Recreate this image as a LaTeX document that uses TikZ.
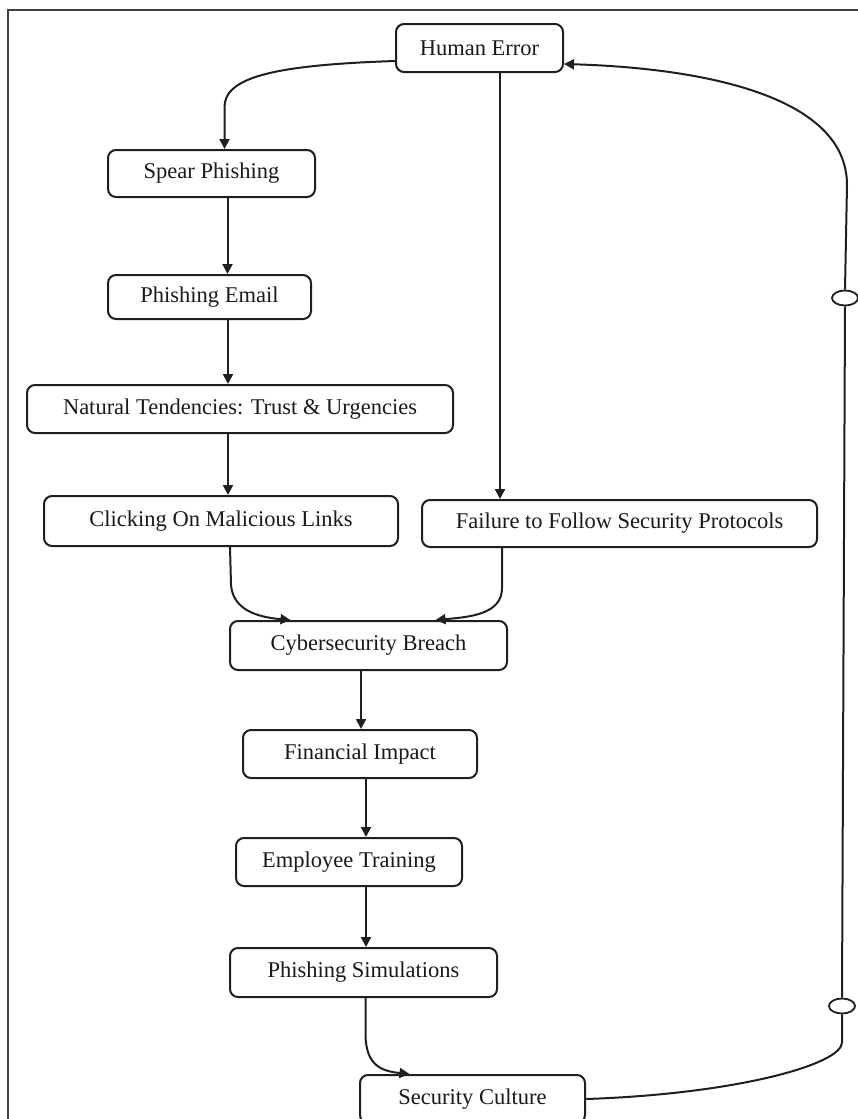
\documentclass[tikz,border=0pt]{standalone}
\usepackage{fontspec}
\setmainfont{Liberation Serif}
\usetikzlibrary{arrows.meta,calc,shapes.geometric}
\begin{document}
\begin{tikzpicture}[x=1pt,y=-1pt,
  box/.style={draw=black!88,line width=2pt,rounded corners=8pt,inner sep=0pt,
    font=\fontsize{22.5}{26}\selectfont,text=black!90},
  conn/.style={draw=black!88,line width=2pt},
  arr/.style={conn,-{Triangle[length=10pt,width=10pt]}},
  joint/.style={draw=black!88,fill=white,line width=1.8pt,ellipse,minimum width=26pt,minimum height=15pt,inner sep=0pt}]
\useasboundingbox (0,0) rectangle (858,1119);
\begin{scope}
\clip (0,0) rectangle (858,1119);
\draw[line width=1.5pt,black!75] (8,1125) -- (8,10) -- (865,10);

\node[box,minimum width=167pt,minimum height=48pt] (he) at (479.5,48) {Human Error};
\node[box,minimum width=207pt,minimum height=47pt] (sp) at (211.5,173.5) {Spear Phishing};
\node[box,minimum width=203pt,minimum height=44pt] (pe) at (209.5,297) {Phishing Email};
\node[box,minimum width=426pt,minimum height=48pt] (nt) at (240,409) {Natural Tendencies: Trust \& Urgencies};
\node[box,minimum width=354pt,minimum height=50pt] (cl) at (221,521) {Clicking On Malicious Links};
\node[box,minimum width=395pt,minimum height=47pt] (fa) at (619.5,523.5) {Failure to Follow Security Protocols};
\node[box,minimum width=277pt,minimum height=49pt] (cb) at (368.5,645.5) {Cybersecurity Breach};
\node[box,minimum width=234pt,minimum height=48pt] (fi) at (360,754) {Financial Impact};
\node[box,minimum width=226pt,minimum height=48pt] (et) at (349,862) {Employee Training};
\node[box,minimum width=267pt,minimum height=49pt] (ps) at (363.5,972.5) {Phishing Simulations};
\node[box,minimum width=225pt,minimum height=48pt] (sc) at (472.5,1099) {Security Culture};

% Human Error -> Spear Phishing
\coordinate (hs) at ($(he.west)+(0,13)$);
\coordinate (spn) at ($(sp.north)+(13,0)$);
\draw[arr] (hs) .. controls ($(hs)+(-120,4)$) and ($(spn)+(0,-72)$) .. ($(spn)+(0,-42)$) -- (spn);

% Human Error -> Failure
\coordinate (hf) at ($(he.south)+(20.5,0)$);
\draw[arr] (hf) -- (hf |- fa.north);

% vertical chain
\coordinate (c1) at ($(sp.south)+(16,0)$);
\draw[arr] (c1) -- (c1 |- pe.north);
\coordinate (c2) at ($(pe.south)+(18.5,0)$);
\draw[arr] (c2) -- (c2 |- nt.north);
\coordinate (c3) at ($(nt.south)+(-12,0)$);
\draw[arr] (c3) -- (c3 |- cl.north);
\coordinate (c4) at ($(cb.south)+(-7.5,0)$);
\draw[arr] (c4) -- (c4 |- fi.north);
\coordinate (c5) at ($(fi.south)+(6,0)$);
\draw[arr] (c5) -- (c5 |- et.north);
\coordinate (c6) at ($(et.south)+(17,0)$);
\draw[arr] (c6) -- (c6 |- ps.north);

% Clicking -> Breach
\coordinate (cls) at ($(cl.south)+(9,0)$);
\coordinate (cbl) at ($(cb.north)+(-78,0)$);
\draw[arr] (cls) -- ($(cls)+(1,38)$) .. controls ($(cls)+(3,62)$) and ($(cbl)+(-35,-3)$) .. (cbl);

% Failure -> Breach
\coordinate (fas) at ($(fa.south)+(-117.5,0)$);
\coordinate (cbr) at ($(cb.north)+(67,0)$);
\draw[arr] (fas) -- ($(fas)+(0,40)$) .. controls ($(fas)+(0,66)$) and ($(cbr)+(35,-3)$) .. (cbr);

% Phishing Simulations -> Security Culture
\coordinate (pss) at ($(ps.south)+(2,0)$);
\coordinate (scn) at ($(sc.north)+(-63,0)$);
\draw[arr] (pss) -- ($(pss)+(0,38)$) .. controls ($(pss)+(1,66)$) and ($(scn)+(-30,-3)$) .. (scn);

% Feedback loop: Security Culture -> Human Error
\node[joint] (j2) at (842,1006) {};
\node[joint] (j1) at (845,298) {};
\coordinate (heE) at ($(he.east)+(0,16)$);
\draw[conn] (sc.east) .. controls ($(sc.east)+(150,-5)$) and ($(j2.south)+(0,50)$) .. ($(j2.south)+(0,28)$) -- (j2.south);
\draw[conn] (j2.north) -- (j1.south);
\draw[arr] (j1.north) -- (847,185) .. controls (847,95) and (700,68) .. (heE);
\end{scope}
\end{tikzpicture}
\end{document}
